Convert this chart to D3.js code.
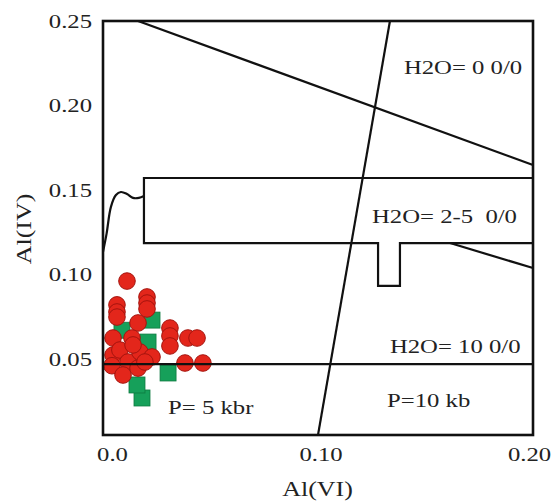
<!DOCTYPE html>
<html>
<head>
<meta charset="utf-8">
<script src="https://cdn.jsdelivr.net/npm/d3@7/dist/d3.min.js"></script>
<style>
  html, body { margin: 0; padding: 0; background: #fff; }
  svg { display: block; }
  text { font-family: "Liberation Serif", "Times New Roman", serif; fill: #222; white-space: pre; }
</style>
</head>
<body>
<svg id="chart" width="554" height="502"></svg>
<script>
// ---------------- data ----------------
const xTicks = [0, 0.10, 0.20];
const xTickLabels = ["0.0", "0.10", "0.20"];
const yTicks = [0.05, 0.10, 0.15, 0.20, 0.25];
const yTickLabels = ["0.05", "0.10", "0.15", "0.20", "0.25"];

// red circles: Al(VI), Al(IV)
const redX = [0.0072, 0.0024, 0.0024, 0.0024, 0.0168, 0.0168, 0.0168, 0.0125, 0.0005, 0.0096,
              0.0278, 0.0278, 0.0278, 0.0364, 0.0408, 0.0350, 0.0436,
              0.0005, 0.0038, 0.0077, 0.0000, 0.0134, 0.0192, 0.0053, 0.0125, 0.0101, 0.0158];
const redY = [0.0961, 0.0820, 0.0778, 0.0748, 0.0867, 0.0831, 0.0796, 0.0713, 0.0624, 0.0624,
              0.0683, 0.0636, 0.0577, 0.0624, 0.0624, 0.0476, 0.0476,
              0.0523, 0.0553, 0.0482, 0.0460, 0.0541, 0.0512, 0.0405, 0.0446, 0.0583, 0.0482];

// green squares: Al(VI), Al(IV)
const greenX = [0.0192, 0.0173, 0.0269, 0.0144, 0.0120, 0.0048];
const greenY = [0.0730, 0.0600, 0.0417, 0.0269, 0.0346, 0.0670];

// boundary lines (Al(VI), Al(IV))
const diagUpperX = [0.0125, 0.2019];
const diagUpperY = [0.250, 0.1648];
const steepX = [0.1333, 0.0988];
const steepY = [0.250, 0.005];
const bandX = [0.2019, 0.01534, 0.01534, 0.1276, 0.1276, 0.1381, 0.1381, 0.2019];
const bandY = [0.1571, 0.1571, 0.1186, 0.1186, 0.0932, 0.0932, 0.1186, 0.1186];
const diagLowerX = [0.1621, 0.2019];
const diagLowerY = [0.1186, 0.1038];
const waveX = [-0.0043, -0.0026, -0.0005, 0.0019, 0.0043, 0.0072, 0.0101, 0.0129, 0.01534];
const waveY = [0.1133, 0.1240, 0.1400, 0.1470, 0.1488, 0.1476, 0.1453, 0.1453, 0.1464];
const h10X = [-0.0043, 0.2019];
const h10Y = [0.0470, 0.0470];

const annoText = ["H2O= 0 0/0", "H2O= 2-5  0/0", "H2O= 10 0/0", "P=10 kb", "P= 5 kbr"];
const annoX = [0.140, 0.1247, 0.1333, 0.1319, 0.0269];
const annoY = [0.2186, 0.1305, 0.0535, 0.0216, 0.0174];

// ---------------- chart ----------------
const svg = d3.select("#chart");
svg.append("rect").attr("width", 554).attr("height", 502).attr("fill", "#fff");

const x = d3.scaleLinear().domain([-0.0043, 0.2019]).range([103, 533]);
const y = d3.scaleLinear().domain([0.005, 0.25]).range([435, 21]);

const STRETCH = 1.3;
function stretch(sel) {
  sel.each(function () {
    const w = this.getComputedTextLength();
    d3.select(this).attr("textLength", w * STRETCH).attr("lengthAdjust", "spacingAndGlyphs");
  });
}

const line = d3.line().x(d => x(d[0])).y(d => y(d[1]));
const zip = (a, b) => a.map((v, i) => [v, b[i]]);

const g = svg.append("g");

// points (green first, red on top)
g.selectAll("rect.g").data(zip(greenX, greenY)).join("rect")
  .attr("class", "g")
  .attr("x", d => x(d[0]) - 8).attr("y", d => y(d[1]) - 8)
  .attr("width", 16).attr("height", 16)
  .attr("fill", "#16a05a").attr("stroke", "#0d7a40").attr("stroke-width", 0.8);

g.selectAll("circle.r").data(zip(redX, redY)).join("circle")
  .attr("class", "r")
  .attr("cx", d => x(d[0])).attr("cy", d => y(d[1])).attr("r", 8.3)
  .attr("fill", "#e3261b").attr("stroke", "#a5140e").attr("stroke-width", 1);

// lines
const lineStyle = s => s.attr("fill", "none").attr("stroke", "#111").attr("stroke-width", 2.2);
g.append("path").datum(zip(diagUpperX, diagUpperY)).attr("d", line).call(lineStyle);
g.append("path").datum(zip(steepX, steepY)).attr("d", line).call(lineStyle);
g.append("path").datum(zip(bandX, bandY)).attr("d", line).call(lineStyle);
g.append("path").datum(zip(diagLowerX, diagLowerY)).attr("d", line).call(lineStyle);
g.append("path").datum(zip(h10X, h10Y)).attr("d", line).call(lineStyle);
g.append("path").datum(zip(waveX, waveY))
  .attr("d", d3.line().x(d => x(d[0])).y(d => y(d[1])).curve(d3.curveCatmullRom.alpha(0.5)))
  .call(lineStyle);

// frame
g.append("rect")
  .attr("x", x.range()[0]).attr("y", y.range()[1])
  .attr("width", x.range()[1] - x.range()[0]).attr("height", y.range()[0] - y.range()[1])
  .attr("fill", "none").attr("stroke", "#111").attr("stroke-width", 2.6);

// annotations
g.selectAll("text.anno").data(annoText).join("text")
  .attr("class", "anno")
  .attr("x", (d, i) => x(annoX[i])).attr("y", (d, i) => y(annoY[i]))
  .attr("font-size", 19)
  .attr("xml:space", "preserve")
  .text(d => d)
  .call(stretch);

// axes
const yAxis = d3.axisLeft(y).tickValues(yTicks).tickFormat((d, i) => yTickLabels[i]).tickSize(0).tickPadding(11);
const ya = svg.append("g").attr("transform", `translate(${x.range()[0]},0)`).call(yAxis);
ya.select(".domain").remove();
ya.selectAll("text").attr("font-size", 19).attr("font-family", "Liberation Serif").attr("fill", "#333").call(stretch);

const xAxis = d3.axisBottom(x).tickValues(xTicks).tickFormat((d, i) => xTickLabels[i]).tickSize(0).tickPadding(13);
const xa = svg.append("g").attr("transform", `translate(0,${y.range()[0]})`).call(xAxis);
xa.select(".domain").remove();
xa.selectAll("text").attr("font-size", 19).attr("font-family", "Liberation Serif").attr("fill", "#333").call(stretch);

// axis titles
svg.append("text").attr("x", x(0.0986)).attr("y", 496).attr("text-anchor", "middle")
  .attr("font-size", 20).text("Al(VI)").call(stretch);
svg.append("text").attr("transform", "translate(31,229) rotate(-90)").attr("text-anchor", "middle")
  .attr("font-size", 20).text("Al(IV)").call(stretch);
</script>
</body>
</html>
